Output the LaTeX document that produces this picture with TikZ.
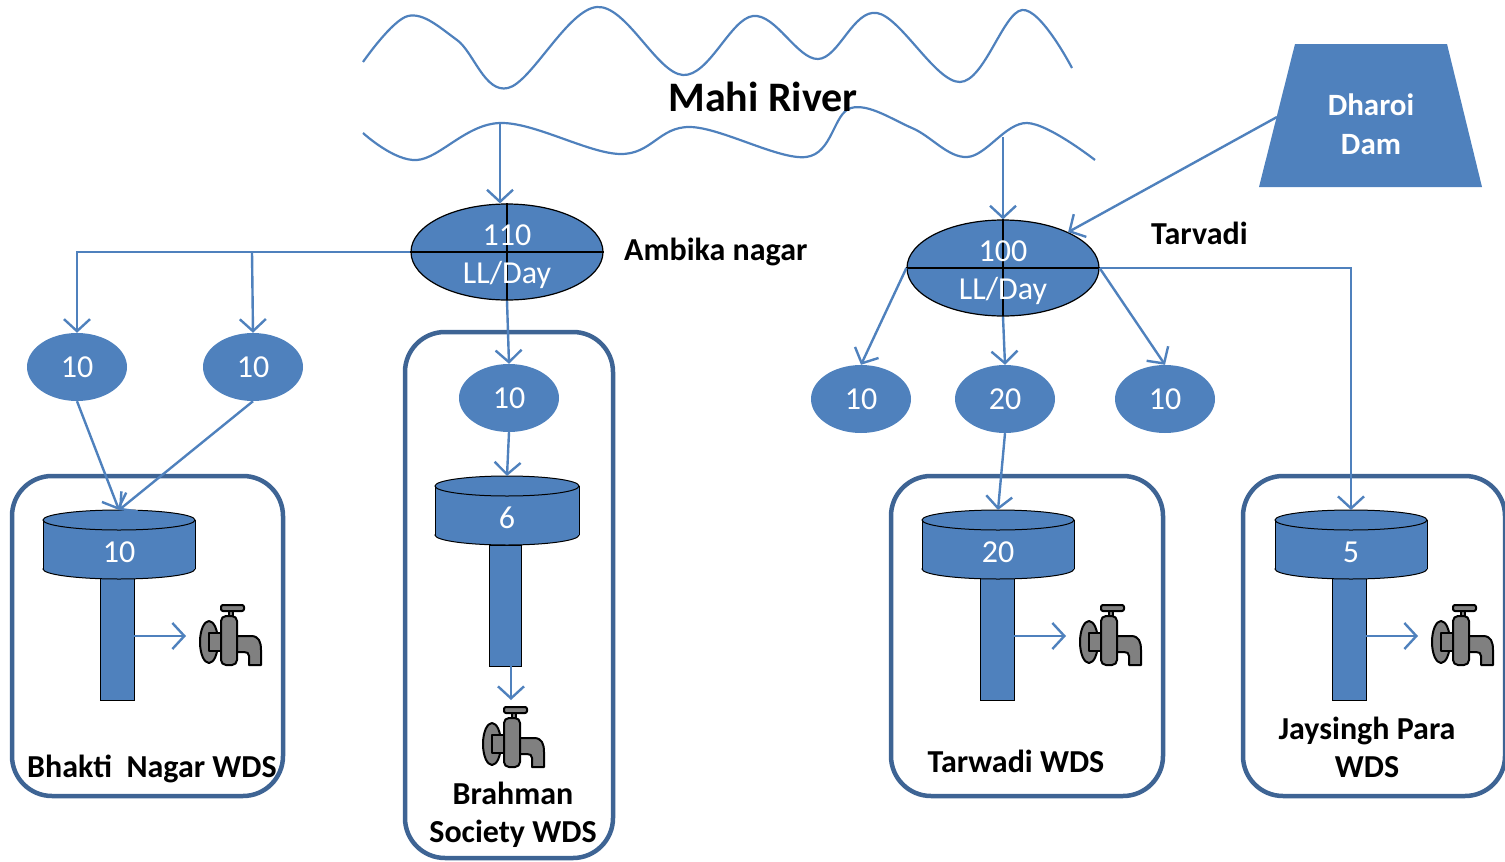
\documentclass[tikz,border=0pt]{standalone}
\usepackage{fontspec}
\setmainfont{Carlito}
\usetikzlibrary{arrows.meta,shapes.geometric}
\definecolor{bl}{HTML}{4F81BD}
\definecolor{bx}{HTML}{3E6494}
\definecolor{tapgray}{HTML}{808080}
\newcommand{\wtank}[5]{%
  \filldraw[fill=bl, draw=black, line width=1pt] (#1,#3) ellipse (#4 and 10);
  \fill[bl] (#1-#4,#2) rectangle (#1+#4,#3);
  \draw[black, line width=1pt] (#1-#4,#2) -- (#1-#4,#3) (#1+#4,#2) -- (#1+#4,#3);
  \filldraw[fill=bl, draw=black, line width=1pt] (#1,#2) ellipse (#4 and 10);
  \coordinate (#5) at (#1,#2-10);
}
\tikzset{
  conn/.style={draw=bl, line width=2.4pt, -{Straight Barb[length=12pt,width=26pt]}},
  wave/.style={draw=bl, line width=2.2pt},
  bigell/.style={ellipse, draw=black, line width=1.2pt, fill=bl, minimum width=192pt, minimum height=96pt, inner sep=0pt},
  smell/.style={ellipse, fill=bl, minimum width=100pt, minimum height=68pt, inner sep=0pt, text=white, font=\fontsize{32}{38}\selectfont},
  wtext/.style={text=white, font=\fontsize{32}{38}\selectfont, anchor=base, inner sep=0pt},
  btext/.style={text=black, font=\bfseries\fontsize{32}{38}\selectfont, align=center, anchor=base, inner sep=0pt},
  wdsbox/.style={draw=bx, line width=4.5pt, rounded corners=40pt},
  stem/.style={fill=bl, draw=black, line width=1pt},
  faucet/.pic={
    \begin{scope}[draw=black, fill=tapgray, line width=2pt, line join=round]
      \filldraw (-22,6) ellipse (9 and 21);
      \filldraw (-22,-3) rectangle (-6,15);
      \filldraw (4,0) -- (20,0) .. controls (28,0) and (30,6) .. (30,14) -- (30,29) -- (18,29) -- (18,20) .. controls (18,17) and (16,16) .. (13,16) -- (4,16) -- cycle;
      \filldraw[rounded corners=5pt] (-10,-20) rectangle (6,29);
      \filldraw (-2,-30) rectangle (2,-20);
      \filldraw[rounded corners=2pt] (-10,-31) rectangle (13,-25);
    \end{scope}
  }
}
\begin{document}
\begin{tikzpicture}[x=1pt,y=-1pt]
\useasboundingbox (0,0) rectangle (1505,862);

% river
\draw[wave] plot[smooth, tension=0.6] coordinates {(363,62) (408,16) (457,40) (508,88) (597,7) (683,75) (753,16) (818,59) (877,13) (960,82) (1022,10) (1072,68)};
\draw[wave] plot[smooth, tension=0.6] coordinates {(363,133) (417,160) (500,123) (620,154) (690,127) (806,157) (851,108) (912,128) (967,157) (1027,123) (1095,160)};
\node[btext, font=\bfseries\fontsize{42}{48}\selectfont] (mahi) at (763,111) {Mahi River};
\coordinate (riv1) at (500,123);
\coordinate (riv2) at (1003,137);

% dam
\fill[bl] (1295,44) -- (1447,44) -- (1482,187) -- (1259,187) -- cycle;
\node[btext, text=white, font=\bfseries\fontsize{31}{39}\selectfont] (dam) at (1371,154) {Dharoi\\Dam};
\coordinate (damL) at (1277,117);

% big ellipses
\node[bigell] (amb) at (507,252) {};
\draw[black, line width=1.2pt] (amb.west) -- (amb.east) (amb.north) -- (amb.south);
\node[wtext] (amb1) at (507,245) {110};
\node[wtext] (amb2) at (507,283) {LL/Day};
\node[btext, anchor=base west] (ambl) at (624,260) {Ambika nagar};

\node[bigell] (tar) at (1003,268) {};
\draw[black, line width=1.2pt] (tar.west) -- (tar.east) (tar.north) -- (tar.south);
\node[wtext] (tar1) at (1003,261) {100};
\node[wtext] (tar2) at (1003,299) {LL/Day};
\node[btext, anchor=base west] (tarl) at (1151,244) {Tarvadi};

\draw[conn] (riv1) -- (riv1 |- amb.north);
\draw[conn] (riv2) -- (tar.north);
\draw[conn] (damL) -- (tar);

% boxes
\draw[wdsbox] (12,476) rectangle (283,796);
\draw[wdsbox] (405,332) rectangle (613,858);
\draw[wdsbox] (891,476) rectangle (1163,796);
\draw[wdsbox] (1243,476) rectangle (1505,796);

% small ellipses
\node[smell] (a1) at (77,367) {10};
\node[smell] (a2) at (253,367) {10};
\node[smell] (b1) at (509,398) {10};
\node[smell] (c1) at (861,399) {10};
\node[smell] (c2) at (1005,399) {20};
\node[smell] (c3) at (1165,399) {10};

% Bhakti Nagar
\filldraw[stem] (100,578) rectangle (134,700);
\wtank{119}{520}{569}{76}{t1top}
\node[wtext] (t1n) at (119,562) {10};
\coordinate (s1) at (134,636);
\coordinate (f1in) at (186,636);
\pic (f1) at (231,636) {faucet};
\node[btext] (bhl) at (152,777) {Bhakti~~Nagar WDS};

% Brahman
\filldraw[stem] (489,545) rectangle (521,666);
\wtank{507}{486}{535}{72}{t2top}
\node[wtext] (t2n) at (507,528) {6};
\coordinate (s2) at (511,666);
\coordinate (f2in) at (511,700);
\pic (f2) at (514,738) {faucet};
\node[btext] (brl) at (513,842) {Brahman\\Society WDS};

% Tarwadi
\filldraw[stem] (980,578) rectangle (1014,700);
\wtank{998}{520}{569}{76}{t3top}
\node[wtext] (t3n) at (998,562) {20};
\coordinate (s3) at (1014,636);
\coordinate (f3in) at (1066,636);
\pic (f3) at (1111,636) {faucet};
\node[btext] (twl) at (1016,772) {Tarwadi WDS};

% Jaysingh Para
\filldraw[stem] (1332,578) rectangle (1366,700);
\wtank{1351}{520}{569}{76}{t4top}
\node[wtext] (t4n) at (1351,562) {5};
\coordinate (s4) at (1366,636);
\coordinate (f4in) at (1418,636);
\pic (f4) at (1463,636) {faucet};
\node[btext] (jpl) at (1367,777) {Jaysingh Para\\WDS};

% connectors
\coordinate (ajoin) at (252,252);
\draw[conn] (amb.west) -| (a1.north);
\draw[conn] (ajoin) -- (a2.north);
\draw[conn] (a1.south) -- (t1top);
\draw[conn] (a2.south) -- (t1top);
\draw[conn] (amb.south) -- (b1.north);
\draw[conn] (b1.south) -- (t2top);
\draw[conn] (tar.west) -- (c1.north);
\draw[conn] (tar.south) -- (c2.north);
\draw[conn] (tar.east) -- (c3.north);
\draw[conn] (c2.south) -- (t3top);
\draw[conn] (tar.east) -| (t4top);
\draw[conn] (s1) -- (f1in);
\draw[conn] (s2) -- (f2in);
\draw[conn] (s3) -- (f3in);
\draw[conn] (s4) -- (f4in);
\end{tikzpicture}
\end{document}
